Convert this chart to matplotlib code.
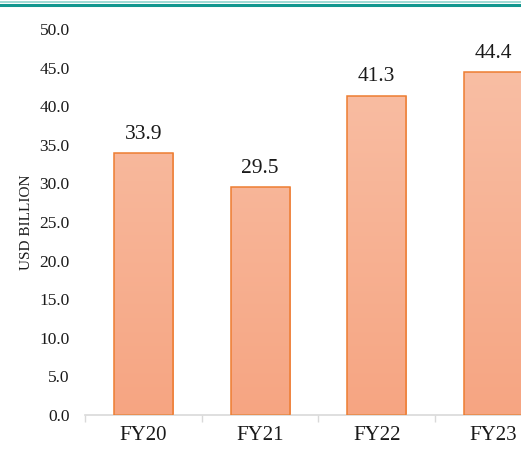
import numpy as np
import matplotlib.pyplot as plt
from matplotlib.colors import LinearSegmentedColormap
from matplotlib.lines import Line2D

# Revenue by fiscal year
years = ["FY20", "FY21", "FY22", "FY23"]
values = [33.9, 29.5, 41.3, 44.4]
yticks = [0, 5, 10, 15, 20, 25, 30, 35, 40, 45, 50]

plt.rcParams['font.family'] = ['Liberation Serif', 'DejaVu Serif']

fig = plt.figure(figsize=(5.21, 4.49), dpi=100)
ax = fig.add_axes([0.1631, 0.0757, 0.896, 0.8597])

x = np.arange(len(years))
bars = ax.bar(x, values, width=0.506, facecolor='none', edgecolor='#ED7D31',
              linewidth=1.1, zorder=3)

# vertical gradient fill, lighter at the top
cmap = LinearSegmentedColormap.from_list('peach', ['#F6A582', '#F9C1A8'])
grad = np.linspace(0, 1, 256).reshape(-1, 1)
for b in bars:
    x0, w = b.get_x(), b.get_width()
    im = ax.imshow(grad, cmap=cmap, origin='lower', aspect='auto',
                   extent=[x0, x0 + w, 0, 50], zorder=2)
    im.set_clip_path(b)

for xi, v in zip(x, values):
    ax.annotate(f"{v:.1f}", (xi, v), xytext=(0, 7), textcoords='offset points',
                ha='center', va='bottom', fontsize=15.5, color='#1a1a1a')

ax.set_xlim(-0.5, 3.5)
ax.set_ylim(0, 50)
ax.set_yticks(yticks)
ax.set_yticklabels([f"{t:.1f}" for t in yticks])
ax.set_xticks(x)
ax.set_xticklabels(years)
ax.set_xticks(np.arange(-0.5, 4, 1), minor=True)

ax.tick_params(axis='y', length=0, pad=11, labelsize=12.5, labelcolor='#1a1a1a')
ax.tick_params(axis='x', which='major', length=0, pad=8, labelsize=15, labelcolor='#1a1a1a')
ax.tick_params(axis='x', which='minor', length=5, width=1, color='#D9D9D9')

for s in ['top', 'right', 'left']:
    ax.spines[s].set_visible(False)
ax.spines['bottom'].set_color('#D9D9D9')
ax.spines['bottom'].set_linewidth(1.2)

ax.set_ylabel("USD BILLION", fontsize=11, labelpad=5, color='#1a1a1a')

# teal rule across the top
fig.add_artist(Line2D([0, 1], [1 - 2 / 449, 1 - 2 / 449], color='#8FD3CD', linewidth=1.2))
fig.add_artist(Line2D([0, 1], [1 - 4.5 / 449, 1 - 4.5 / 449], color='#12978F', linewidth=2.2))

fig.savefig("out.png", dpi=100)
